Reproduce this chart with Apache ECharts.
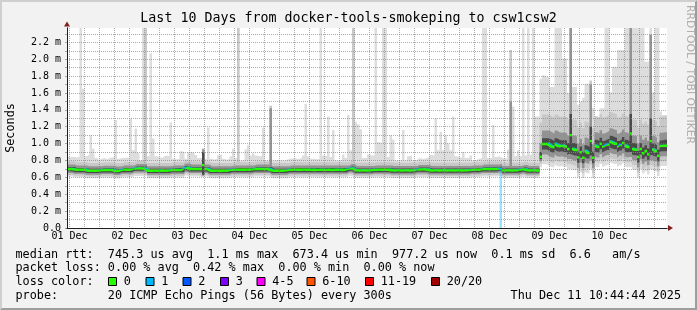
<!DOCTYPE html>
<html>
<head>
<meta charset="utf-8">
<script src="https://cdn.jsdelivr.net/npm/echarts@6.0.0/dist/echarts.min.js"></script>
<style>
html,body{margin:0;padding:0;background:#f2f2f2;overflow:hidden}
#chart{width:697px;height:310px}
</style>
</head>
<body>
<div id="chart"></div>
<script>
// ---------------- texts ----------------
const titleText = 'Last 10 Days from docker-tools-smokeping to csw1csw2';
const yAxisTitle = 'Seconds';
const dayLabels = ['01 Dec','02 Dec','03 Dec','04 Dec','05 Dec','06 Dec','07 Dec','08 Dec','09 Dec','10 Dec'];
const yTickLabels = ['0.0','0.2 m','0.4 m','0.6 m','0.8 m','1.0 m','1.2 m','1.4 m','1.6 m','1.8 m','2.0 m','2.2 m'];
const statLines = [
  'median rtt:  745.3 us avg  1.1 ms max  673.4 us min  977.2 us now  0.1 ms sd  6.6   am/s',
  'packet loss: 0.00 % avg  0.42 % max  0.00 % min  0.00 % now'
];
const lossTitle = 'loss color:';
const lossLabels = ['0','1','2','3','4-5','6-10','11-19','20/20'];
const lossColors = ['#26ff00','#00b8ff','#0059ff','#7e00ff','#ff00ff','#ff5500','#ff0000','#a10000'];
const probeLine = 'probe:       20 ICMP Echo Pings (56 Bytes) every 300s';
const stampText = 'Thu Dec 11 10:44:44 2025';
const watermark = 'RRDTOOL / TOBI OETIKER';

// ---------------- data ----------------
// hourly buckets, first bucket starts Dec 1 11:00 (hours since Dec 1 00:00)
// values in microseconds; smoke = sorted ping ranks (min, p2, p5, p9 | median | p12, p16, p19, max)
const firstHour = 11;
const yMaxUs = 2370;

const pingMin = [
610,610,610,600,600,600,600,600,590,590,590,590,590,590,597,597,597,597,597,586,586,586,600,600,
600,600,600,617,617,617,617,617,590,590,590,590,590,590,590,590,590,590,598,598,598,598,598,623,
623,609,609,609,609,609,600,609,609,590,590,590,590,590,590,590,590,590,600,600,600,600,600,600,
600,600,600,609,609,609,609,609,609,609,590,590,590,590,590,590,590,600,600,600,600,600,600,600,
600,600,600,600,600,600,600,600,600,600,600,600,600,600,600,600,600,617,616,594,594,594,594,594,
594,594,594,600,600,600,600,600,600,600,593,593,593,593,593,593,593,593,593,593,605,605,605,605,
605,593,593,593,593,593,593,593,593,593,593,593,593,593,593,593,593,593,600,600,600,600,609,609,
609,609,609,609,609,617,593,593,593,593,593,593,593,593,605,605,593,593,593,593,593,720,755,755,
755,735,720,755,735,728,735,724,696,700,696,684,597,657,593,672,649,700,593,735,720,759,720,735,
750,783,767,759,720,743,767,735,720,720,696,688,601,696,645,672,633,690,692,672,617,728,735,735];

const ping2 = [
632,632,632,622,622,622,622,622,612,612,612,612,612,612,619,619,619,619,619,608,608,608,622,622,
622,622,622,639,639,639,639,639,612,612,612,612,612,612,612,612,612,612,620,620,620,620,620,645,
645,631,631,631,631,631,610,631,631,612,612,612,612,612,612,612,612,612,622,622,622,622,622,622,
622,622,622,631,631,631,631,631,631,631,612,612,612,612,612,612,612,622,622,622,622,622,622,622,
622,622,622,622,622,622,622,622,622,622,622,622,622,622,622,622,622,639,638,616,616,616,616,616,
616,616,616,622,622,622,622,622,622,622,615,615,615,615,615,615,615,615,615,615,627,627,627,627,
627,615,615,615,615,615,615,615,615,615,615,615,615,615,615,615,615,615,622,622,622,622,631,631,
631,631,631,631,631,639,615,615,615,615,615,615,615,615,627,627,615,615,615,615,615,760,810,810,
810,790,775,810,790,783,790,779,751,760,751,739,652,712,648,727,704,750,648,790,775,814,775,790,
805,838,822,814,775,798,822,790,775,780,751,743,656,751,700,727,688,740,747,727,672,783,790,790];

const ping5 = [
652,652,652,642,642,642,642,642,632,632,632,632,632,632,639,639,639,639,639,628,628,628,642,642,
642,642,642,659,659,659,659,659,632,632,632,632,632,632,632,632,632,632,640,640,640,640,640,665,
665,651,651,651,651,651,620,651,651,632,632,632,632,632,632,632,632,632,642,642,642,642,642,642,
642,642,642,651,651,651,651,651,651,651,632,632,632,632,632,632,632,642,642,642,642,642,642,642,
642,642,642,642,642,642,642,642,642,642,642,642,642,642,642,642,642,659,658,636,636,636,636,636,
636,636,636,642,642,642,642,642,642,642,635,635,635,635,635,635,635,635,635,635,647,647,647,647,
647,635,635,635,635,635,635,635,635,635,635,635,635,635,635,635,635,635,642,642,642,642,651,651,
651,651,651,651,651,659,635,635,635,635,635,635,635,635,647,647,635,635,635,635,635,790,870,870,
870,850,835,870,850,843,850,839,811,820,811,799,712,772,708,787,764,800,708,850,835,874,835,850,
865,898,882,874,835,858,882,850,835,840,811,803,716,811,760,787,748,800,807,787,732,843,850,850];

const ping9 = [
672,672,672,662,662,662,662,662,652,652,652,652,652,652,659,659,659,659,659,648,648,648,662,662,
662,662,662,679,679,679,679,679,652,652,652,652,652,652,652,652,652,652,660,660,660,660,660,685,
685,671,671,671,671,671,630,671,671,652,652,652,652,652,652,652,652,652,662,662,662,662,662,662,
662,662,662,671,671,671,671,671,671,671,652,652,652,652,652,652,652,662,662,662,662,662,662,662,
662,662,662,662,662,662,662,662,662,662,662,662,662,662,662,662,662,679,678,656,656,656,656,656,
656,656,656,662,662,662,662,662,662,662,655,655,655,655,655,655,655,655,655,655,667,667,667,667,
667,655,655,655,655,655,655,655,655,655,655,655,655,655,655,655,655,655,662,662,662,662,671,671,
671,671,671,671,671,679,655,655,655,655,655,655,655,655,667,667,655,655,655,655,655,815,930,930,
930,910,895,930,910,903,910,899,871,880,871,859,772,832,768,847,824,860,768,910,895,934,895,910,
925,958,942,934,895,918,942,910,895,900,871,863,776,871,820,847,808,860,867,847,792,903,910,910];

const median = [
700,700,698,692,690,692,690,691,680,679,680,678,680,682,688,687,686,688,686,676,675,678,690,692,
690,691,695,706,708,706,707,700,680,679,678,680,679,681,678,680,679,684,687,688,686,687,690,712,
714,700,699,698,700,699,745,700,698,680,679,678,680,679,678,680,679,686,691,690,692,690,691,690,
692,690,695,699,700,698,700,699,700,690,680,679,678,680,679,680,685,691,690,692,690,691,690,692,
690,689,690,688,689,690,689,688,690,689,688,690,689,690,688,689,695,707,706,684,683,682,684,683,
682,684,686,691,690,692,690,691,690,688,683,682,684,683,682,684,683,682,684,683,695,694,696,695,
690,683,682,684,683,682,684,683,682,684,683,682,684,683,682,684,683,686,691,690,692,691,699,698,
700,699,698,700,699,707,683,682,684,683,682,684,683,690,695,694,683,682,684,683,682,845,995,995,
995,975,960,995,975,968,975,964,936,1100,936,924,837,897,833,912,889,1030,833,975,960,999,960,975,
990,1023,1007,999,960,983,1007,975,960,1118,936,928,841,936,885,912,873,1030,932,912,857,968,975,975];

const ping12 = [
722,722,722,712,712,712,712,712,702,702,702,702,702,702,709,709,709,709,709,698,698,698,712,712,
712,712,712,729,729,729,729,729,702,702,702,702,702,702,702,702,702,702,710,710,710,710,710,735,
735,721,721,721,721,721,900,721,721,702,702,702,702,702,702,702,702,702,712,712,712,712,712,712,
712,712,712,721,721,721,721,721,721,721,702,702,702,702,702,702,702,712,712,712,712,712,712,712,
712,712,712,712,712,712,712,712,712,712,712,712,712,712,712,712,712,729,728,706,706,706,706,706,
706,706,706,712,712,712,712,712,712,712,705,705,705,705,705,705,705,705,705,705,717,717,717,717,
717,705,705,705,705,705,705,705,705,705,705,705,705,705,705,705,705,705,712,712,712,712,721,721,
721,721,721,721,721,729,705,705,705,705,705,705,705,705,717,717,705,705,705,705,705,900,1065,1065,
1065,1045,1030,1065,1045,1038,1045,1034,1006,1350,1006,994,907,967,903,982,959,1200,903,1045,1030,1069,1030,1045,
1060,1093,1077,1069,1030,1053,1077,1045,1030,1350,1006,998,911,1006,955,982,943,1300,1002,982,927,1038,1045,1045];

const ping16 = [
752,752,752,742,742,742,742,742,732,732,732,732,732,732,739,739,739,739,739,728,728,728,742,742,
742,742,742,759,759,759,759,759,732,732,732,732,732,732,732,732,732,732,740,740,740,740,740,765,
765,751,751,751,751,751,930,751,751,732,732,732,732,732,732,732,732,732,742,742,742,742,742,742,
742,742,742,751,751,751,751,751,751,1420,732,732,732,732,732,732,732,742,742,742,742,742,742,742,
742,742,742,742,742,742,742,742,742,742,742,742,742,742,742,742,742,759,758,736,736,736,736,736,
736,736,736,742,742,742,742,742,742,742,735,735,735,735,735,735,735,735,735,735,747,747,747,747,
747,735,735,735,735,735,735,735,735,735,735,735,735,735,735,735,735,735,742,742,742,742,751,751,
751,751,751,751,751,759,735,735,735,1500,735,735,735,735,747,747,735,735,735,735,735,1000,1155,1155,
1155,1135,1120,1155,1135,1128,1135,1124,1096,2500,1096,1084,997,1057,993,1072,1049,1700,993,1135,1120,1159,1120,1135,
1150,1183,1167,1159,1120,1143,1167,1135,1120,2500,1096,1088,1001,1096,1045,1072,1033,2290,1092,1072,1017,1128,1135,1135];

const ping19 = [
790,790,790,780,780,780,780,780,770,770,770,770,770,770,777,777,777,777,777,766,766,766,780,780,
780,780,780,797,797,797,797,2500,770,770,770,770,770,770,770,770,770,770,778,778,778,778,778,803,
803,789,789,789,789,789,940,789,789,770,770,770,770,770,770,770,770,770,780,780,2500,780,780,780,
780,780,780,789,789,789,789,789,789,1450,770,770,770,770,770,770,770,780,780,780,780,780,780,780,
780,780,780,780,780,780,780,780,780,780,780,780,780,780,780,780,780,797,2500,774,774,774,774,774,
774,774,774,780,780,780,780,780,780,780,773,773,773,773,773,773,773,773,773,773,785,785,785,785,
785,773,773,773,773,773,773,773,773,773,773,773,773,773,773,773,773,773,780,780,780,780,789,789,
789,789,789,789,789,797,773,773,773,2110,773,773,773,773,785,785,773,773,773,773,773,1250,1345,1345,
1345,1325,1310,1345,1325,1318,1325,1314,1286,2500,1286,1274,1187,1247,1183,1262,1239,1740,1183,1325,1310,1349,1310,1325,
1340,1373,1357,1349,1310,1333,1357,1325,1310,2500,1286,1278,1191,1286,1235,1262,1223,2290,1282,1262,1207,1318,1325,1325];

const pingMax = [
840,845,840,835,845,2500,1650,850,870,1100,940,830,810,820,830,815,830,835,840,1280,820,830,830,835,
830,1300,920,1180,890,800,2500,2500,850,2070,1060,850,840,830,850,860,850,1250,820,815,820,910,900,820,
900,900,890,865,830,830,945,820,1190,820,810,820,860,870,820,810,820,850,940,830,2500,800,805,930,
980,860,885,860,850,860,1190,800,800,1450,800,805,810,800,800,810,820,825,830,820,820,830,860,1470,
850,820,820,815,820,2500,860,850,1320,840,1160,800,800,805,870,830,1340,920,2500,1260,1230,1170,830,830,
870,860,860,2500,1020,1000,2500,2500,840,1100,1050,800,805,800,1160,800,850,860,800,810,830,820,820,830,
840,865,860,1300,920,1140,920,1100,1000,920,1320,850,840,830,900,830,830,860,800,810,820,830,2500,2500,
830,830,1220,840,850,830,830,820,930,2110,1440,850,920,850,2500,860,2500,870,2500,1320,1320,1770,1810,1790,
1790,1670,1670,2500,2500,2500,2010,2010,1600,2500,1670,1670,1460,1500,1540,1710,1710,1750,1420,1300,1300,1420,1420,2500,
2500,1610,1910,1910,2110,2110,2110,2500,2500,2500,2500,2500,2500,2500,2500,1970,1970,2500,1610,2500,2500,1380,1340,1340];

// loss colour class per hour (0 = no loss, 1 = one lost ping class)
const lossClass = [
0,0,0,0,0,0,0,0,0,0,0,0,0,0,0,0,0,0,0,0,0,0,0,0,
0,0,0,0,0,0,0,0,0,0,0,0,0,0,0,0,0,0,0,0,0,0,0,0,
0,0,0,0,0,0,0,0,0,0,0,0,0,0,0,0,0,0,0,0,0,0,0,0,
0,0,0,0,0,0,0,0,0,0,0,0,0,0,0,0,0,0,0,0,0,0,0,0,
0,0,0,0,0,0,0,0,0,0,0,0,0,0,0,0,0,0,0,0,0,0,0,0,
0,0,0,0,0,0,0,0,0,0,0,0,0,0,0,0,0,0,0,0,0,0,0,0,
0,0,0,0,0,0,0,0,0,0,0,0,0,0,0,0,0,0,0,0,0,0,0,0,
0,0,0,0,0,1,0,0,0,0,0,0,0,0,0,0,0,0,0,0,0,0,0,0,
0,0,0,0,0,0,0,0,0,0,0,0,0,0,0,0,0,0,0,0,0,0,0,0,
0,0,0,0,0,0,0,0,0,0,0,0,0,0,0,0,0,0,0,0,0,0,0,0];

// ---------------- style ----------------
const COL = {
  back:'#f2f2f2', canvas:'#ffffff', shadeA:'#cfcfcf', shadeB:'#9e9e9e',
  grid:'rgba(143,143,143,0.75)', mgrid:'rgba(222,79,79,0.6)',
  font:'#000000', arrow:'#801f1f', axis:'#1f1f1f'
};
const smokeColors = ['#dddddd','#c8c8c8','#939393','#4a4a4a'];
const MONO = '"DejaVu Sans Mono", monospace';

// ---------------- build ----------------
const nH = median.length;
const xMin = firstHour, xMax = firstHour + nH;
// category axis: bucket boundaries (hour values), one more than the bucket count
const bucketEdges = median.map((_, i) => String(firstHour + i)).concat([String(firstHour + nH)]);
function stepVals(arr){ return arr.concat([arr[arr.length-1]]); } // closes the last step
const hidden = {lineStyle:{width:0,opacity:0}, symbol:'none', showSymbol:false, step:'end', silent:true, animation:false, xAxisIndex:0, yAxisIndex:0};
const series = [];
const bands = [[pingMin,pingMax],[ping2,ping19],[ping5,ping16],[ping9,ping12]];
bands.forEach((b,k)=>{
  const lo=b[0], hi=b[1];
  series.push(Object.assign({type:'line', stack:'band'+k, data:stepVals(lo)}, hidden));
  series.push(Object.assign({type:'line', stack:'band'+k, data:stepVals(hi.map((v,i)=>v-lo[i])), areaStyle:{color:smokeColors[k],opacity:1}}, hidden));
});
// loss bar (bottom up to median) for hours with loss
series.push(Object.assign({type:'line', data:stepVals(median.map((m,i)=>lossClass[i]>0?m:0)), areaStyle:{color:'rgba(0,184,255,0.4)',opacity:1}}, hidden));
// median band coloured by loss class
const half = yMaxUs/200*1.2;
series.push(Object.assign({type:'line', stack:'med', data:stepVals(median.map(m=>m-half))}, hidden));
lossColors.slice(0,2).forEach((c,ci)=>{
  series.push(Object.assign({type:'line', stack:'med', data:stepVals(median.map((m,i)=>lossClass[i]===ci?2*half:0)), areaStyle:{color:c,opacity:1}}, hidden));
});

const graphics = [];
graphics.push({type:'polygon', shape:{points:[[0,310],[2,308],[2,2],[695,2],[697,0],[0,0]]}, style:{fill:COL.shadeA}, silent:true});
graphics.push({type:'polygon', shape:{points:[[2,308],[695,308],[695,2],[697,0],[697,310],[0,310]]}, style:{fill:COL.shadeB}, silent:true});
function txt(x,y,text,opts){
  opts = opts||{};
  return {type:'text', x:x, y:y, rotation:opts.rot||0, silent:true, z:20,
    style:{text:text, font:opts.font||('11.8px '+MONO), fill:opts.fill||COL.font,
      textAlign:opts.align||'left', textVerticalAlign:opts.va||'middle', align:opts.align||'left', verticalAlign:opts.va||'middle'}};
}
graphics.push(txt(348.5,19,titleText,{font:'13.3px '+MONO, align:'center'}));
graphics.push(txt(10.5,128,yAxisTitle,{rot:Math.PI/2, align:'center'}));
graphics.push(txt(690,5,watermark,{rot:-Math.PI/2, font:'10.8px "DejaVu Sans", sans-serif', fill:'#b0b0b0'}));
graphics.push(txt(15.5,254.5,statLines[0]));
graphics.push(txt(15.5,268.3,statLines[1]));
graphics.push(txt(15.5,281.7,lossTitle));
const boxX = [108.5,146,183,220.5,257,307,365.5,431.5];
lossLabels.forEach((l,i)=>{
  graphics.push({type:'rect', shape:{x:boxX[i], y:277.5, width:8, height:8}, style:{fill:lossColors[i], stroke:'#000', lineWidth:1}, silent:true, z:20});
  graphics.push(txt(boxX[i]+15.2,281.7,l));
});
graphics.push(txt(15.5,296,probeLine));
graphics.push(txt(681,296,stampText,{align:'right'}));

const noneAxis = {axisLine:{show:false}, axisTick:{show:false}, axisLabel:{show:false}, splitLine:{show:false}};
const option = {
  backgroundColor: COL.back,
  animation:false,
  grid:[
    {left:67, top:28, width:600, height:200, show:true, backgroundColor:COL.canvas, borderWidth:0, containLabel:false},
    {left:69.5, top:28, width:597.5, height:200, show:false, containLabel:false}
  ],
  xAxis:[
    Object.assign({gridIndex:0, type:'category', data:bucketEdges, boundaryGap:false, position:'bottom', offset:0, z:3}, noneAxis,
      {axisLine:{show:true, onZero:false, symbol:['none','triangle'], symbolSize:[6,5], symbolOffset:[0,3.5], lineStyle:{color:COL.arrow,width:1}}}),
    Object.assign({gridIndex:0, type:'value', position:'bottom', offset:0, min:xMin, max:xMax, z:6}, noneAxis,
      {axisLine:{show:true, onZero:false, lineStyle:{color:COL.axis,width:1}}}),
    {gridIndex:1, type:'value', position:'bottom', offset:0, min:12, max:xMax, interval:6, z:5,
      axisLine:{show:false}, axisTick:{show:false},
      axisLabel:{show:true, margin:3, fontFamily:'DejaVu Sans Mono', fontSize:10, color:COL.font,
        showMinLabel:true, showMaxLabel:false,
        formatter:function(v){ const d=(v-12)/24; return (Number.isInteger(d) && d>=0 && d<dayLabels.length)? dayLabels[d] : ''; }},
      splitLine:{show:true, showMinLine:true, showMaxLine:false, lineStyle:{color:[COL.grid,COL.grid,COL.mgrid,COL.grid], width:1, type:[1,1]}}}
  ],
  yAxis:[
    {gridIndex:0, type:'value', position:'left', offset:0, min:0, max:yMaxUs, interval:100, z:5,
      axisLine:{show:true, onZero:false, lineStyle:{color:COL.axis,width:1}},
      axisTick:{show:true, length:2, lineStyle:{color:COL.grid}},
      axisLabel:{show:true, margin:6, fontFamily:'DejaVu Sans Mono', fontSize:10, color:COL.font, showMaxLabel:false,
        formatter:function(v){ const k=v/200; return (Number.isInteger(k) && k<yTickLabels.length)? yTickLabels[k] : ''; }},
      splitLine:{show:true, showMinLine:true, showMaxLine:false, lineStyle:{color:[COL.mgrid,COL.grid], width:1, type:[1,1]}}},
    Object.assign({gridIndex:0, type:'value', position:'left', offset:0, min:0, max:yMaxUs, z:3}, noneAxis,
      {axisLine:{show:true, onZero:false, symbol:['none','triangle'], symbolSize:[6,5], symbolOffset:[0,4], lineStyle:{color:COL.arrow,width:1}}}),
    Object.assign({gridIndex:1, type:'value', min:0, max:yMaxUs}, noneAxis)
  ],
  series: series,
  graphic: {elements: graphics}
};
const chart = echarts.init(document.getElementById('chart'), null, {renderer:'canvas', width:697, height:310, devicePixelRatio:1});
chart.setOption(option);
</script>
</body>
</html>
